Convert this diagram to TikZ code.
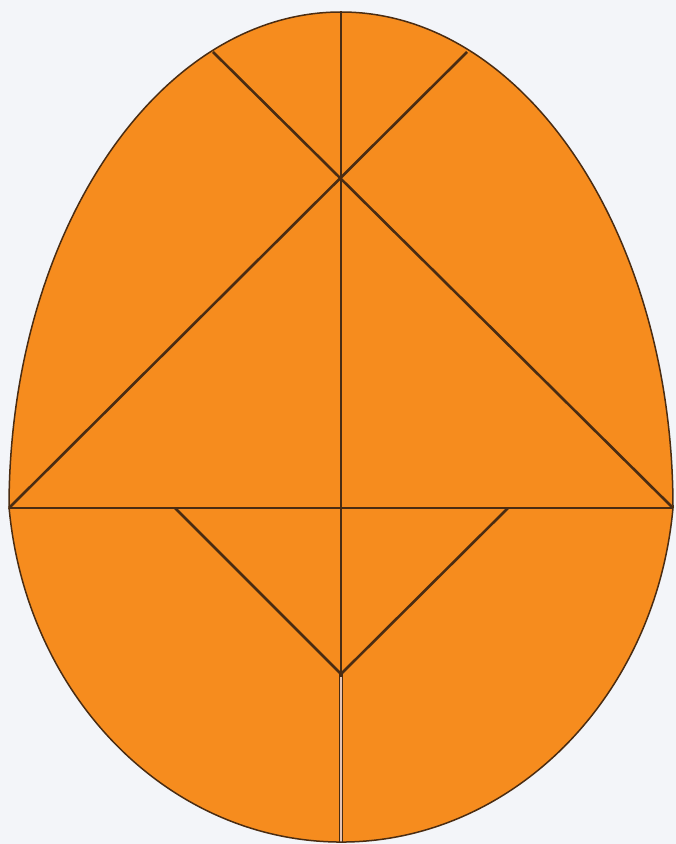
\documentclass[tikz,border=0pt]{standalone}
\definecolor{bgc}{HTML}{F3F5F9}
\definecolor{eggc}{HTML}{F68C1E}
\definecolor{linec}{HTML}{4A2C12}
\definecolor{gapc}{HTML}{E6C4B4}
\tikzset{cut/.style={draw=linec,line width=2.6pt},
  rim/.style={draw=linec,line width=1.5pt}}
\begin{document}
\begin{tikzpicture}[x=1pt,y=1pt]
\fill[bgc] (0,0) rectangle (676,844);
\useasboundingbox (0,0) rectangle (676,844);
\coordinate (L) at (9,336);
\coordinate (R) at (673,336);
\coordinate (T) at (341,832);
\coordinate (B) at (341,2);
\coordinate (D1) at (213,792);
\coordinate (D2) at (467,792);
\coordinate (V1) at (175,336);
\coordinate (V2) at (508,336);
\coordinate (VB) at (341,170);
\def\eggpath{(L) arc[start angle=180,end angle=0,x radius=332,y radius=496]
  arc[start angle=-5.86,end angle=-174.14,x radius=333.7,y radius=372] -- cycle}
\fill[eggc] \eggpath;
\draw[cut] (T) -- (VB);
\draw[cut] (L) -- (R);
\draw[cut] (D1) -- (R);
\draw[cut] (D2) -- (L);
\draw[cut,line join=miter] (V1) -- (VB) -- (V2);
\draw[draw=linec,line width=4.5pt] (VB) -- (B);
\draw[draw=gapc,line width=1.6pt] ([yshift=-3pt]VB) -- (B);
\draw[rim] \eggpath;
\end{tikzpicture}
\end{document}
